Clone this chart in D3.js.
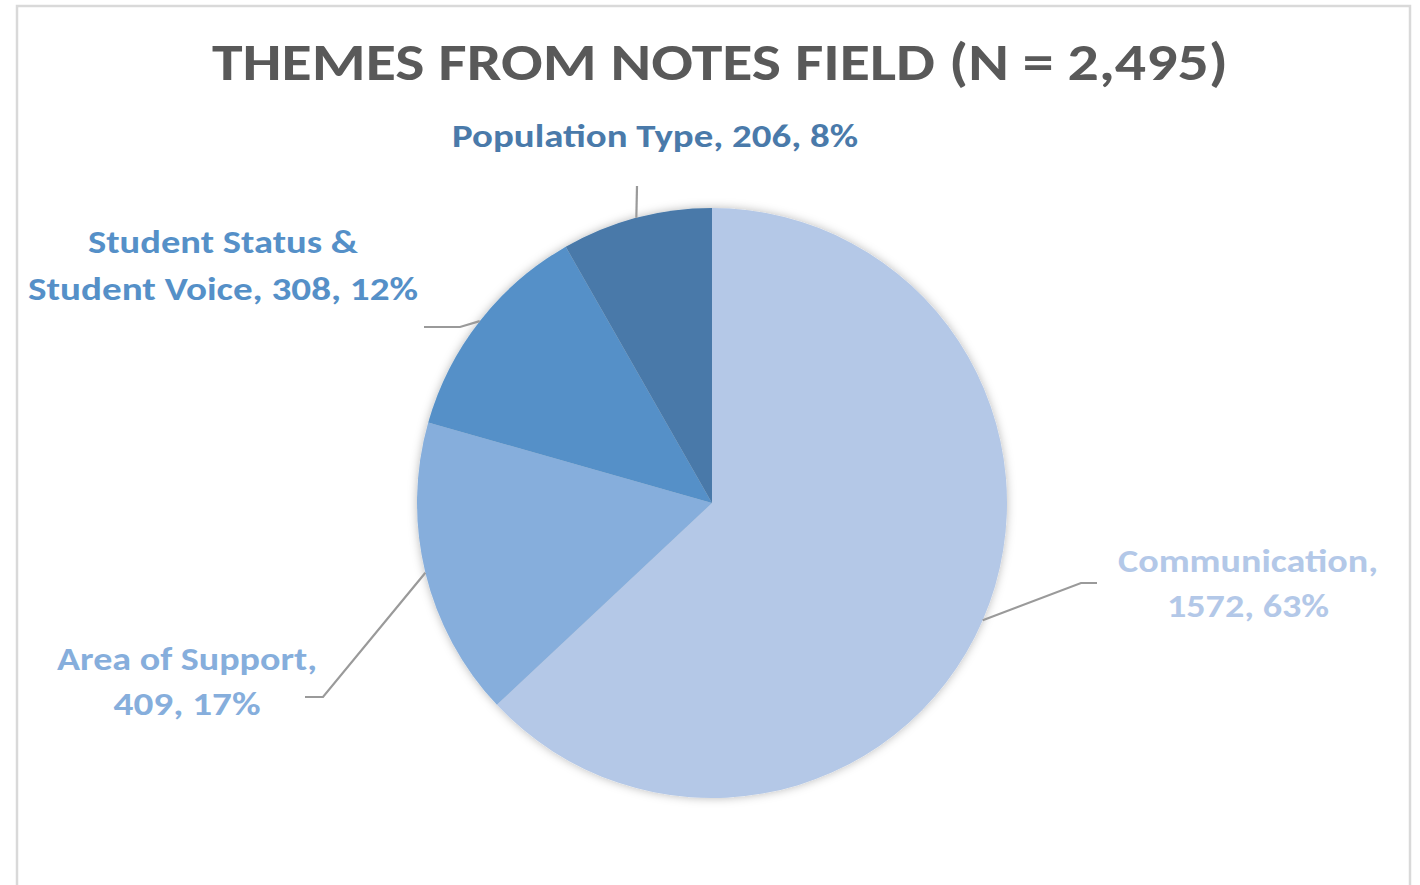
<!DOCTYPE html>
<html>
<head>
<meta charset="utf-8">
<script src="https://cdn.jsdelivr.net/npm/d3@7"></script>
<style>
  body { margin: 0; background: #fff; }
  svg { display: block; }
  text { font-family: Calibri, Carlito, Lato, "Noto Sans", sans-serif; font-weight: bold; }
</style>
</head>
<body>
<div id="chart"></div>
<script>
// data
const categories = ["Communication", "Area of Support", "Student Status & Student Voice", "Population Type"];
const counts = [1572, 409, 308, 206];
const percents = [63, 17, 12, 8];
const colors = ["#b4c8e7", "#86aedc", "#5590c8", "#4879a9"];
const labelColors = ["#b3c8e8", "#86aedc", "#5590c8", "#4a7aaa"];
const total = 2495;

const width = 1420, height = 885;
const cx = 712, cy = 503, radius = 295;

// label layout (lines, centre x, baselines, target width of each line, leader elbow + end)
const labelLayout = [
  { lines: ["Communication,", "1572, 63%"], x: 1248, y: [572, 617], w: [260, 162],
    elbow: [1081, 583], end: [1097, 583] },
  { lines: ["Area of Support,", "409, 17%"], x: 187, y: [670, 715], w: [260, 147],
    elbow: [323, 697], end: [305, 697] },
  { lines: ["Student Status &", "Student Voice, 308, 12%"], x: 223, y: [253, 300], w: [270, 390],
    elbow: [460, 327], end: [424, 327] },
  { lines: ["Population Type, 206, 8%"], x: 655, y: [147], w: [406],
    elbow: [637, 186], end: [637, 186] }
];

const svg = d3.select("#chart")
  .append("svg")
    .attr("width", width)
    .attr("height", height);

// chart frame
svg.append("rect")
  .attr("x", 17).attr("y", 6)
  .attr("width", 1393).attr("height", 900)
  .attr("fill", "#fff")
  .attr("stroke", "#d9d9d9")
  .attr("stroke-width", 2.5);

const defs = svg.append("defs");
const shadow = defs.append("filter")
  .attr("id", "pieShadow")
  .attr("x", "-20%").attr("y", "-20%")
  .attr("width", "140%").attr("height", "140%");
shadow.append("feDropShadow")
  .attr("dx", 0).attr("dy", 0)
  .attr("stdDeviation", 5)
  .attr("flood-color", "#000")
  .attr("flood-opacity", 0.28);

// fit a text line to the width it has in the picture
function fit(sel, target) {
  const len = sel.node().getComputedTextLength();
  if (Math.abs(len - target) > 2) {
    sel.attr("textLength", target).attr("lengthAdjust", "spacingAndGlyphs");
  }
}

// title
const title = svg.append("text")
  .attr("x", 720)
  .attr("y", 80)
  .attr("text-anchor", "middle")
  .attr("fill", "#595959")
  .style("font-size", "53px")
  .text("THEMES FROM NOTES FIELD (N = " + d3.format(",")(total) + ")");
fit(title, 1016);

const pie = d3.pie().sort(null).value(d => d.count);
const arc = d3.arc().innerRadius(0).outerRadius(radius);

const data = categories.map((c, i) => ({ name: c, count: counts[i], pct: percents[i], i: i }));
const arcs = pie(data);

const g = svg.append("g")
  .attr("transform", `translate(${cx},${cy})`);

g.append("g")
  .attr("filter", "url(#pieShadow)")
  .selectAll("path")
  .data(arcs)
  .join("path")
    .attr("d", arc)
    .attr("fill", d => colors[d.data.i]);

// leader lines from the middle of each slice edge
arcs.forEach(a => {
  const lay = labelLayout[a.data.i];
  const mid = (a.startAngle + a.endAngle) / 2;
  const sx = cx + radius * Math.sin(mid);
  const sy = cy - radius * Math.cos(mid);
  svg.append("polyline")
    .attr("points", [[sx, sy], lay.elbow, lay.end].map(p => p.join(",")).join(" "))
    .attr("fill", "none")
    .attr("stroke", "#9a9a9a")
    .attr("stroke-width", 2.2);
});

// data labels
arcs.forEach(a => {
  const lay = labelLayout[a.data.i];
  lay.lines.forEach((line, k) => {
    const t = svg.append("text")
      .attr("x", lay.x)
      .attr("y", lay.y[k])
      .attr("text-anchor", "middle")
      .attr("fill", labelColors[a.data.i])
      .style("font-size", "33px")
      .text(line);
    fit(t, lay.w[k]);
  });
});
</script>
</body>
</html>
